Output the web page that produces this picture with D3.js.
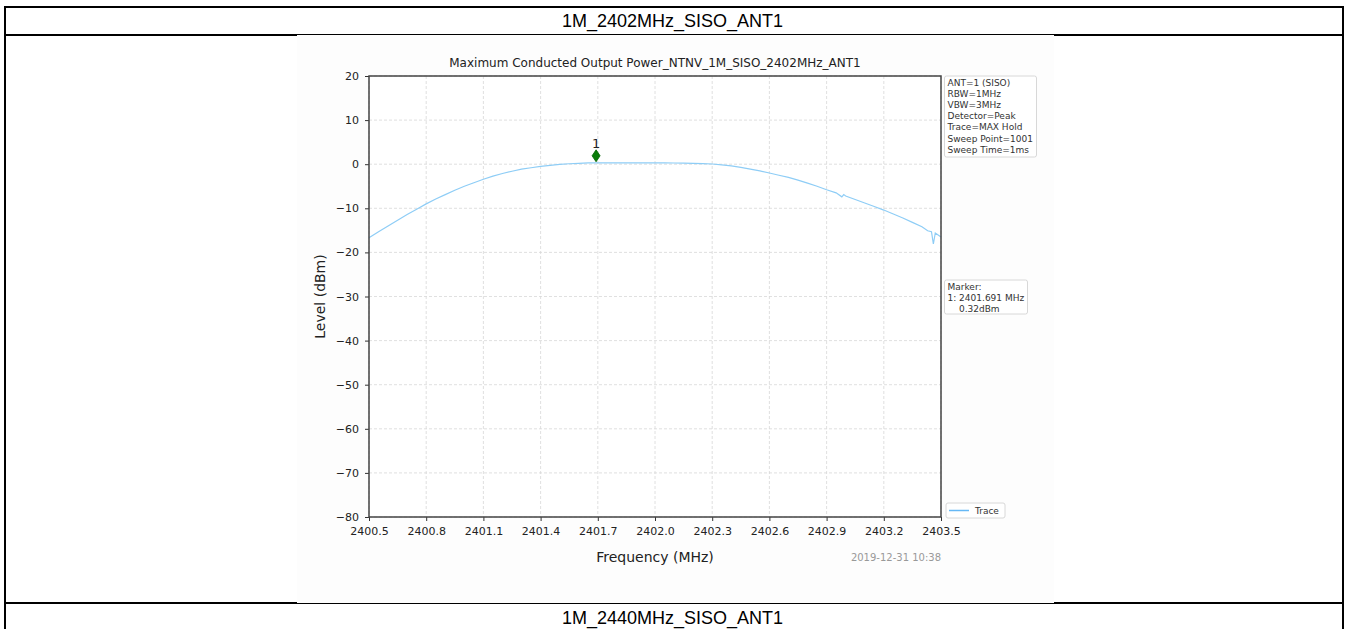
<!DOCTYPE html>
<html>
<head>
<meta charset="utf-8">
<script src="https://cdn.jsdelivr.net/npm/d3@7"></script>
<style>
  html, body { margin: 0; padding: 0; background: #fff; }
  svg { display: block; }
</style>
</head>
<body>
<svg id="chart"></svg>
<script>
// Data
const freqs = [
  2400.50, 2400.55, 2400.60, 2400.65, 2400.70, 2400.75, 2400.80, 2400.85, 2400.90, 2400.95,
  2401.00, 2401.05, 2401.10, 2401.15, 2401.20, 2401.25, 2401.30, 2401.35, 2401.40, 2401.45,
  2401.50, 2401.55, 2401.60, 2401.65, 2401.70, 2401.75, 2401.80, 2401.85, 2401.90, 2401.95,
  2402.00, 2402.05, 2402.10, 2402.15, 2402.20, 2402.25, 2402.30, 2402.35, 2402.40, 2402.45,
  2402.50, 2402.55, 2402.60, 2402.65, 2402.70, 2402.75, 2402.80, 2402.85, 2402.90, 2402.95,
  2402.98, 2402.99, 2403.00, 2403.05, 2403.10, 2403.15, 2403.20, 2403.25, 2403.30, 2403.35,
  2403.40, 2403.43, 2403.45, 2403.46, 2403.47, 2403.50
];
const levels = [
  -16.7, -15.3, -14.0, -12.7, -11.4, -10.2, -9.0, -7.9, -6.9, -5.9,
  -5.0, -4.2, -3.4, -2.7, -2.1, -1.6, -1.1, -0.8, -0.5, -0.25,
  -0.05, 0.1, 0.2, 0.28, 0.32, 0.3, 0.31, 0.3, 0.3, 0.3,
  0.3, 0.28, 0.27, 0.25, 0.2, 0.15, 0.05, -0.15, -0.4, -0.7,
  -1.1, -1.5, -2.0, -2.5, -3.0, -3.6, -4.3, -5.0, -5.8, -6.5,
  -7.4, -6.9, -7.2, -8.0, -8.8, -9.6, -10.4, -11.3, -12.2, -13.2,
  -14.2, -15.1, -15.3, -18.1, -15.6, -16.5
];
const xTicks = [2400.5, 2400.8, 2401.1, 2401.4, 2401.7, 2402.0, 2402.3, 2402.6, 2402.9, 2403.2, 2403.5];
const yTicks = [20, 10, 0, -10, -20, -30, -40, -50, -60, -70, -80];
const markerFreq = 2401.691;
const markerLevel = 0.32;
const infoLines = ['ANT=1 (SISO)', 'RBW=1MHz', 'VBW=3MHz', 'Detector=Peak', 'Trace=MAX Hold', 'Sweep Point=1001', 'Sweep Time=1ms'];
const markerLines = ['Marker:', '1: 2401.691 MHz', '    0.32dBm'];
const headerTop = '1M_2402MHz_SISO_ANT1';
const headerNext = '1M_2440MHz_SISO_ANT1';

const W = 1345, H = 629;
const svg = d3.select('#chart').attr('width', W).attr('height', H);

// table frame around the picture
const frame = svg.append('g').attr('stroke', '#000').attr('stroke-width', 2);
frame.append('line').attr('x1', 4).attr('x2', 1344).attr('y1', 7).attr('y2', 7);
frame.append('line').attr('x1', 5).attr('x2', 5).attr('y1', 6).attr('y2', H);
frame.append('line').attr('x1', 1343).attr('x2', 1343).attr('y1', 6).attr('y2', H);
frame.append('line').attr('x1', 4).attr('x2', 1344).attr('y1', 35).attr('y2', 35);
frame.append('line').attr('x1', 4).attr('x2', 1344).attr('y1', 603).attr('y2', 603);

svg.append('text').attr('x', W / 2).attr('y', 27).attr('text-anchor', 'middle')
  .style('font-family', 'Liberation Sans, Arial, sans-serif').style('font-size', '18px')
  .text(headerTop);
svg.append('text').attr('x', W / 2).attr('y', 624).attr('text-anchor', 'middle')
  .style('font-family', 'Liberation Sans, Arial, sans-serif').style('font-size', '18px')
  .text(headerNext);

// picture background (sits over half of the cell lines)
svg.append('rect').attr('x', 297).attr('y', 35).attr('width', 757).attr('height', 568).attr('fill', '#fdfdfd');

const margin = { left: 369, right: 941, top: 76, bottom: 517 };
const x = d3.scaleLinear().domain([2400.5, 2403.5]).range([margin.left, margin.right]);
const y = d3.scaleLinear().domain([-80, 20]).range([margin.bottom, margin.top]);

const font = 'DejaVu Sans, sans-serif';

// plot area
svg.append('rect').attr('x', margin.left).attr('y', margin.top)
  .attr('width', margin.right - margin.left).attr('height', margin.bottom - margin.top).attr('fill', '#fff');

// grid
const grid = svg.append('g').attr('stroke', '#d8d8d8').attr('stroke-width', 0.8).attr('stroke-dasharray', '3,2');
grid.selectAll('.gx').data(xTicks).join('line')
  .attr('x1', d => x(d)).attr('x2', d => x(d)).attr('y1', margin.top).attr('y2', margin.bottom);
grid.selectAll('.gy').data(yTicks).join('line')
  .attr('x1', margin.left).attr('x2', margin.right).attr('y1', d => y(d)).attr('y2', d => y(d));

// trace
const line = d3.line().x((d, i) => x(freqs[i])).y(d => y(d));
svg.append('path').datum(levels).attr('d', line)
  .attr('fill', 'none').attr('stroke', '#8ecdf6').attr('stroke-width', 1.2);

// axes
const xAxis = svg.append('g').attr('transform', `translate(0,${margin.bottom})`)
  .call(d3.axisBottom(x).tickValues(xTicks).tickFormat(d3.format('.1f')).tickSize(4).tickPadding(6));
const yAxis = svg.append('g').attr('transform', `translate(${margin.left},0)`)
  .call(d3.axisLeft(y).tickValues(yTicks).tickFormat(d => d < 0 ? '\u2212' + Math.abs(d) : d).tickSize(4).tickPadding(6));
[xAxis, yAxis].forEach(a => {
  a.select('.domain').remove();
  a.selectAll('line').attr('stroke', '#333');
  a.selectAll('text').style('font-family', font).style('font-size', '11px').attr('fill', '#222');
});

// spines
svg.append('rect').attr('x', margin.left).attr('y', margin.top)
  .attr('width', margin.right - margin.left).attr('height', margin.bottom - margin.top)
  .attr('fill', 'none').attr('stroke', '#444').attr('stroke-width', 1.5);

// marker
const mx = x(markerFreq), my = y(markerLevel) - 7;
svg.append('path')
  .attr('d', `M${mx},${my - 6}L${mx + 4},${my}L${mx},${my + 6}L${mx - 4},${my}Z`)
  .attr('fill', '#0a7d0a').attr('stroke', '#006400').attr('stroke-width', 0.8);
svg.append('text').attr('x', mx).attr('y', my - 8).attr('text-anchor', 'middle')
  .style('font-family', font).style('font-size', '13px').attr('fill', '#222').text('1');

// titles
svg.append('text').attr('x', (margin.left + margin.right) / 2).attr('y', 67).attr('text-anchor', 'middle')
  .style('font-family', font).style('font-size', '12px').attr('fill', '#222')
  .text('Maximum Conducted Output Power_NTNV_1M_SISO_2402MHz_ANT1');
svg.append('text').attr('x', (margin.left + margin.right) / 2).attr('y', 562).attr('text-anchor', 'middle')
  .style('font-family', font).style('font-size', '14px').attr('fill', '#222')
  .text('Frequency (MHz)');
svg.append('text').attr('transform', `translate(325,${(margin.top + margin.bottom) / 2}) rotate(-90)`)
  .attr('text-anchor', 'middle')
  .style('font-family', font).style('font-size', '14px').attr('fill', '#222')
  .text('Level (dBm)');
svg.append('text').attr('x', margin.right).attr('y', 561).attr('text-anchor', 'end')
  .style('font-family', font).style('font-size', '10px').attr('fill', '#999')
  .text('2019-12-31 10:38');

// info boxes
function textBox(lines, bx, by, bw, bh) {
  svg.append('rect').attr('x', bx).attr('y', by).attr('width', bw).attr('height', bh)
    .attr('rx', 2).attr('fill', '#fff').attr('stroke', '#d8d8d8').attr('stroke-width', 1);
  svg.append('g').selectAll('text').data(lines).join('text')
    .attr('x', bx + 3).attr('y', (d, i) => by + 9.5 + i * 11.2)
    .style('font-family', font).style('font-size', '9px').attr('fill', '#333')
    .style('white-space', 'pre')
    .text(d => d);
}
textBox(infoLines, 944.5, 76, 92, 81);
textBox(markerLines, 944.5, 280, 83, 34);

// legend
svg.append('rect').attr('x', 946).attr('y', 503).attr('width', 59).attr('height', 15)
  .attr('rx', 2).attr('fill', '#fff').attr('stroke', '#d8d8d8');
svg.append('line').attr('x1', 949).attr('x2', 969).attr('y1', 510.5).attr('y2', 510.5)
  .attr('stroke', '#66b8f5').attr('stroke-width', 1.5);
svg.append('text').attr('x', 975).attr('y', 514).style('font-family', font).style('font-size', '9px')
  .attr('fill', '#333').text('Trace');
</script>
</body>
</html>
